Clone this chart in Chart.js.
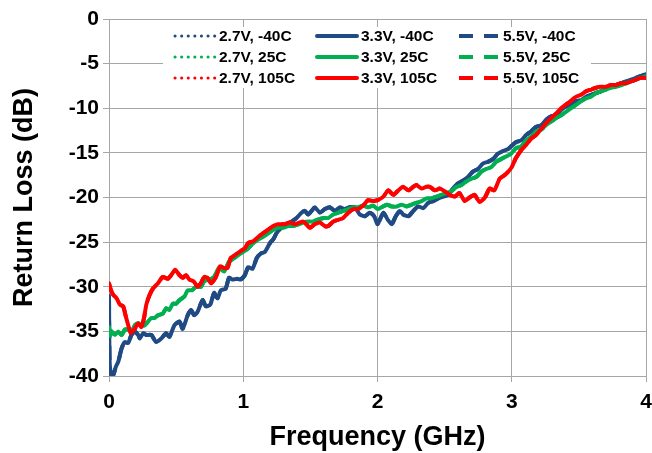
<!DOCTYPE html>
<html><head><meta charset="utf-8">
<script src="https://cdn.jsdelivr.net/npm/chart.js@4.4.1/dist/chart.umd.min.js"></script>
<style>html,body{margin:0;padding:0;background:#fff;}canvas{display:block;}</style>
</head><body>
<canvas id="c" width="652" height="453"></canvas>
<script>
// ---------- data ----------
const xTickValues = [0, 1, 2, 3, 4];
const xTickLabels = ['0', '1', '2', '3', '4'];
const yTickValues = [0, -5, -10, -15, -20, -25, -30, -35, -40];
const yTickLabels = ['0', '-5', '-10', '-15', '-20', '-25', '-30', '-35', '-40'];

const seriesLabels = ['2.7V, -40C','2.7V, 25C','2.7V, 105C','3.3V, -40C','3.3V, 25C','3.3V, 105C','5.5V, -40C','5.5V, 25C','5.5V, 105C'];

// -40C (blue)
const freqCold = [0,0.005,0.02,0.035,0.05,0.069,0.094,0.118,0.143,0.167,0.192,0.217,0.229,0.254,0.278,0.315,0.352,0.389,0.426,0.45,0.488,0.525,0.549,0.586,0.611,0.635,0.66,0.697,0.722,0.754,0.783,0.808,0.833,0.869,0.894,0.919,0.956,0.98,1.012,1.037,1.069,1.1,1.129,1.161,1.199,1.223,1.248,1.285,1.323,1.36,1.397,1.434,1.459,1.484,1.509,1.533,1.571,1.608,1.645,1.682,1.72,1.757,1.794,1.831,1.868,1.906,1.943,1.975,2.0,2.02,2.044,2.077,2.106,2.136,2.168,2.19,2.23,2.267,2.304,2.34,2.378,2.415,2.452,2.489,2.526,2.563,2.6,2.637,2.674,2.711,2.748,2.785,2.822,2.86,2.896,2.933,2.97,3.0,3.03,3.07,3.107,3.144,3.18,3.22,3.255,3.293,3.33,3.367,3.404,3.44,3.48,3.516,3.553,3.59,3.628,3.665,3.7,3.74,3.777,3.814,3.85,3.888,3.925,3.96,4.0];
const lossCold = [-31.0,-38.5,-40.0,-39.8,-39.0,-38.4,-36.9,-36.2,-36.3,-35.4,-35.0,-35.4,-35.8,-35.2,-35.4,-35.4,-36.2,-35.8,-35.2,-35.6,-34.3,-33.9,-34.7,-33.2,-32.6,-33.2,-32.8,-31.5,-32.2,-32.0,-30.7,-31.3,-30.4,-30.2,-29.0,-29.2,-29.1,-29.2,-28.7,-27.8,-28.0,-26.8,-26.3,-26.1,-25.1,-24.7,-24.0,-23.4,-23.0,-22.7,-22.3,-21.7,-21.5,-21.9,-21.5,-21.1,-21.7,-21.3,-21.1,-21.5,-21.1,-21.3,-21.1,-21.1,-21.9,-22.1,-21.7,-22.1,-23.0,-22.4,-21.7,-22.5,-23.0,-22.1,-21.5,-21.9,-22.1,-21.5,-21.0,-21.2,-20.6,-20.4,-20.1,-19.9,-19.7,-19.0,-18.4,-18.1,-17.7,-17.1,-16.8,-16.2,-16.0,-15.7,-15.1,-14.8,-14.6,-14.2,-13.8,-13.6,-13.0,-12.6,-12.1,-11.9,-11.3,-10.9,-10.8,-10.2,-9.8,-9.6,-9.2,-9.1,-8.7,-8.5,-8.3,-8.1,-7.7,-7.6,-7.4,-7.2,-7.0,-6.8,-6.6,-6.4,-6.2];

// 25C (green)
const freqRoom = [0,0.008,0.02,0.044,0.069,0.094,0.118,0.143,0.167,0.192,0.217,0.241,0.266,0.291,0.315,0.34,0.365,0.401,0.426,0.45,0.475,0.5,0.525,0.562,0.586,0.616,0.648,0.685,0.709,0.746,0.783,0.82,0.857,0.894,0.931,0.968,1.0,1.037,1.074,1.112,1.149,1.186,1.223,1.26,1.298,1.335,1.372,1.41,1.447,1.484,1.521,1.55,1.6,1.633,1.67,1.707,1.744,1.782,1.82,1.856,1.893,1.93,1.968,2.0,2.03,2.07,2.106,2.143,2.18,2.217,2.254,2.29,2.328,2.365,2.4,2.44,2.476,2.514,2.55,2.588,2.625,2.662,2.7,2.736,2.773,2.81,2.847,2.884,2.92,2.958,2.995,3.03,3.07,3.107,3.144,3.18,3.22,3.255,3.293,3.33,3.367,3.404,3.44,3.48,3.516,3.553,3.59,3.628,3.665,3.7,3.74,3.777,3.814,3.85,3.888,3.925,3.96,4.0];
const lossRoom = [-34.5,-35.5,-35.0,-35.4,-35.0,-35.4,-34.8,-34.8,-35.0,-34.3,-34.1,-34.3,-34.3,-33.9,-33.5,-33.5,-33.2,-33.0,-32.4,-32.6,-31.9,-31.9,-31.5,-31.1,-30.4,-30.4,-30.0,-30.0,-29.4,-29.2,-28.9,-27.9,-28.3,-27.2,-26.8,-26.4,-26.1,-25.7,-25.1,-24.7,-24.4,-24.0,-23.6,-23.4,-23.4,-23.2,-23.2,-23.0,-22.8,-22.7,-22.7,-22.5,-22.3,-22.3,-21.9,-21.7,-21.5,-21.3,-21.1,-21.1,-20.9,-21.1,-20.9,-21.3,-21.1,-20.8,-21.0,-21.0,-20.8,-21.0,-20.8,-20.6,-20.4,-20.1,-20.1,-19.9,-19.7,-19.5,-19.3,-18.8,-18.6,-18.2,-17.9,-17.7,-17.1,-16.8,-16.6,-16.0,-15.7,-15.4,-15.1,-14.5,-14.3,-13.6,-13.2,-12.6,-12.4,-11.9,-11.5,-11.1,-10.8,-10.4,-10.0,-9.6,-9.2,-8.9,-8.7,-8.3,-8.1,-7.9,-7.7,-7.6,-7.4,-7.2,-7.0,-6.8,-6.6,-6.4];

// 105C (red)
const freqHot = [0,0.015,0.032,0.057,0.081,0.106,0.123,0.143,0.163,0.192,0.217,0.241,0.261,0.278,0.303,0.328,0.365,0.401,0.438,0.463,0.493,0.525,0.549,0.574,0.599,0.631,0.66,0.685,0.709,0.734,0.759,0.796,0.828,0.857,0.882,0.906,0.943,0.98,1.012,1.037,1.074,1.112,1.149,1.186,1.223,1.26,1.31,1.347,1.385,1.42,1.447,1.471,1.496,1.533,1.571,1.608,1.633,1.67,1.707,1.744,1.782,1.82,1.856,1.893,1.93,1.968,2.0,2.044,2.08,2.118,2.155,2.19,2.23,2.267,2.29,2.328,2.365,2.39,2.427,2.464,2.5,2.538,2.575,2.61,2.65,2.686,2.723,2.76,2.8,2.835,2.87,2.91,2.946,2.98,3.0,3.03,3.07,3.107,3.144,3.18,3.22,3.255,3.293,3.33,3.367,3.404,3.44,3.48,3.516,3.553,3.59,3.628,3.665,3.7,3.74,3.777,3.814,3.85,3.888,3.925,3.96,4.0];
const lossHot = [-29.6,-30.4,-30.9,-31.3,-32.0,-32.2,-33.2,-34.3,-35.2,-34.7,-34.1,-34.5,-33.5,-32.0,-30.9,-30.2,-29.6,-28.9,-29.1,-28.7,-28.1,-28.7,-29.0,-28.7,-29.2,-29.4,-30.0,-29.6,-28.9,-29.0,-29.6,-28.9,-27.7,-27.9,-27.9,-26.8,-26.4,-26.0,-25.7,-25.1,-24.9,-24.4,-24.0,-23.6,-23.2,-23.0,-23.0,-22.8,-23.0,-22.8,-22.7,-23.0,-23.4,-23.0,-22.8,-23.2,-23.2,-22.7,-22.5,-22.3,-21.7,-21.3,-21.3,-20.9,-20.3,-20.4,-20.3,-19.9,-19.2,-19.7,-19.2,-18.8,-19.2,-18.8,-18.6,-19.0,-18.8,-18.8,-19.2,-19.0,-19.3,-19.7,-19.9,-19.5,-20.4,-20.0,-19.7,-20.5,-20.0,-19.0,-19.2,-17.9,-17.5,-17.0,-16.6,-15.6,-14.7,-14.1,-13.4,-13.0,-12.3,-11.7,-11.1,-10.6,-10.0,-9.6,-9.2,-8.7,-8.5,-8.1,-7.9,-7.7,-7.6,-7.6,-7.4,-7.4,-7.2,-7.2,-7.0,-6.8,-6.6,-6.6];

// 2.7V and 5.5V traces coincide with the 3.3V traces in the picture
const freqSets = [freqCold, freqRoom, freqHot];
const lossSets = [lossCold, lossRoom, lossHot];

// ---------- styles ----------
const tempColors = ['#1F4A84', '#00B050', '#FF0000'];
const FONT = '"Liberation Sans", Arial, Helvetica, sans-serif';
const GRID = '#A6A6A6';

function pts(fx, ly) { return fx.map((f, i) => ({ x: f, y: ly[i] })); }

const datasets = [];
const voltStyles = [
  { dash: [0.1, 6.5], width: 3, cap: 'round' },   // 2.7V dotted
  { dash: [], width: 4, cap: 'round' },            // 3.3V solid
  { dash: [14, 11], width: 4, cap: 'butt' }        // 5.5V dashed
];
const drawOrder = [[7, 8, 9], [3, 2, 1], [6, 5, 4]];
for (let v = 0; v < 3; v++) {
  for (let t = 0; t < 3; t++) {
    datasets.push({
      label: seriesLabels[v * 3 + t],
      data: pts(freqSets[t], lossSets[t]),
      borderColor: tempColors[t],
      backgroundColor: tempColors[t],
      borderWidth: voltStyles[v].width,
      borderDash: voltStyles[v].dash,
      borderCapStyle: voltStyles[v].cap,
      borderJoinStyle: 'round',
      pointRadius: 0,
      tension: 0.2,
      fill: false,
      order: drawOrder[v][t]
    });
  }
}

const legendPlugin = {
  id: 'insideLegend',
  afterDatasetsDraw(chart) {
    const ctx = chart.ctx;
    ctx.save();
    ctx.fillStyle = '#fff';
    ctx.fillRect(163, 27, 428, 61);
    const colX = [175, 317, 459];
    const rowY = [36, 57, 78];
    ctx.font = 'bold 15.5px ' + FONT;
    ctx.textBaseline = 'middle';
    chart.data.datasets.forEach((ds, i) => {
      const c = Math.floor(i / 3), r = i % 3;
      const x0 = colX[c], y = rowY[r];
      ctx.beginPath();
      ctx.strokeStyle = ds.borderColor;
      ctx.lineWidth = ds.borderWidth;
      ctx.lineCap = ds.borderCapStyle;
      ctx.setLineDash(ds.borderDash);
      ctx.moveTo(x0, y);
      ctx.lineTo(x0 + 40, y);
      ctx.stroke();
      ctx.setLineDash([]);
      ctx.fillStyle = '#000';
      ctx.fillText(ds.label, x0 + 44, y + 1);
    });
    ctx.restore();
  }
};

new Chart(document.getElementById('c'), {
  type: 'line',
  data: { datasets },
  plugins: [legendPlugin],
  options: {
    responsive: false,
    animation: false,
    devicePixelRatio: 1,
    layout: { padding: { left: 0, right: 6, top: 19, bottom: 0 } },
    plugins: { legend: { display: false }, tooltip: { enabled: false } },
    scales: {
      x: {
        type: 'linear', min: 0, max: 4,
        afterBuildTicks: s => { s.ticks = xTickValues.map(v => ({ value: v })); },
        afterFit: s => { s.height = 77; s.paddingLeft = 0; s.paddingRight = 0; },
        ticks: {
          callback: (v) => xTickLabels[xTickValues.indexOf(v)],
          font: { family: FONT, size: 21, weight: 'bold' }, color: '#000', padding: 8, maxRotation: 0
        },
        grid: { color: GRID, lineWidth: 1, tickLength: 6, tickColor: GRID },
        border: { color: GRID, width: 1 },
        title: {
          display: true, text: 'Frequency (GHz)', color: '#000',
          font: { family: FONT, size: 27, weight: 'bold', lineHeight: 1 },
          padding: { top: 0, bottom: 2 }
        }
      },
      y: {
        type: 'linear', min: -40, max: 0,
        afterBuildTicks: s => { s.ticks = yTickValues.map(v => ({ value: v })); },
        afterFit: s => { s.width = 109; s.paddingTop = 0; s.paddingBottom = 0; },
        ticks: {
          callback: (v) => yTickLabels[yTickValues.indexOf(v)],
          font: { family: FONT, size: 21, weight: 'bold' }, color: '#000', padding: 4
        },
        grid: { color: GRID, lineWidth: 1, tickLength: 6, tickColor: GRID },
        border: { color: GRID, width: 1 },
        title: {
          display: true, text: 'Return Loss (dB)', color: '#000',
          font: { family: FONT, size: 27, weight: 'bold', lineHeight: 1 },
          padding: { top: 11, bottom: 0 }
        }
      }
    }
  }
});
</script>
</body></html>
